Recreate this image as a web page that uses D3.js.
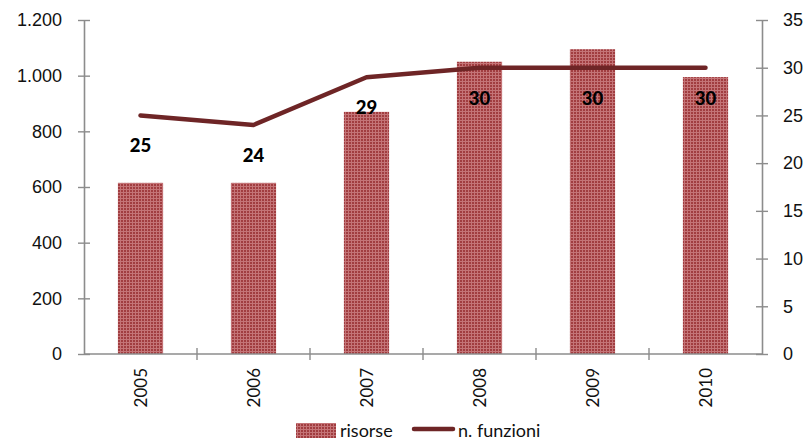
<!DOCTYPE html>
<html>
<head>
<meta charset="utf-8">
<script src="https://cdn.jsdelivr.net/npm/d3@7"></script>
<style>
  html, body { margin: 0; padding: 0; background: #fff; }
  svg { display: block; font-family: Lato, "Open Sans", sans-serif; }
</style>
</head>
<body>
<svg id="chart" width="805" height="440"></svg>
<script>
// Data
const years = ["2005", "2006", "2007", "2008", "2009", "2010"];
const risorse = [615, 615, 870, 1050, 1095, 995];
const funzioni = [25, 24, 29, 30, 30, 30];
const leftTicks = [0, 200, 400, 600, 800, 1000, 1200];
const rightTicks = [0, 5, 10, 15, 20, 25, 30, 35];

const svg = d3.select("#chart");
const m = { left: 84, right: 43, top: 20, bottom: 86 };
const W = 805, H = 440;
const x0 = m.left, x1 = W - m.right, yTop = m.top, yBot = H - m.bottom;

const x = d3.scaleBand().domain(years).range([x0, x1]).paddingInner(0).paddingOuter(0);
const yL = d3.scaleLinear().domain([0, 1200]).range([yBot, yTop]);
const yR = d3.scaleLinear().domain([0, 35]).range([yBot, yTop]);

const axisColor = "#8c8c8c";
const lineColor = "#6e2526";
const fmtIt = d => d3.format(",")(d).replace(/,/g, ".");

// Checkered fill for the bars
const defs = svg.append("defs");
const pat = defs.append("pattern").attr("id", "grid")
  .attr("patternUnits", "userSpaceOnUse").attr("width", 3).attr("height", 3);
pat.append("rect").attr("width", 3).attr("height", 3).attr("fill", "#a13d40");
pat.append("rect").attr("x", 0).attr("y", 0).attr("width", 3).attr("height", 1).attr("fill", "#c47477");
pat.append("rect").attr("x", 0).attr("y", 0).attr("width", 1).attr("height", 3).attr("fill", "#c47477");

// Bars
const barW = x.bandwidth() * 0.4;
svg.append("g").selectAll("rect").data(years).join("rect")
  .attr("x", (d) => x(d) + (x.bandwidth() - barW) / 2)
  .attr("y", (d, i) => yL(risorse[i]))
  .attr("width", barW)
  .attr("height", (d, i) => yBot - yL(risorse[i]))
  .attr("fill", "url(#grid)");

// Axes
function styleAxis(g) {
  g.select(".domain").attr("stroke", axisColor).attr("stroke-width", 1.6);
  g.selectAll(".tick line").attr("stroke", axisColor).attr("stroke-width", 1.4);
  g.selectAll(".tick text").attr("fill", "#111").attr("font-size", 18);
}

const gL = svg.append("g").attr("transform", `translate(${x0},0)`)
  .call(d3.axisLeft(yL).tickValues(leftTicks).tickFormat(fmtIt).tickSize(6).tickSizeOuter(0).tickPadding(16));
styleAxis(gL);
gL.selectAll(".tick line").attr("x2", 6).attr("x1", -6);

const gR = svg.append("g").attr("transform", `translate(${x1},0)`)
  .call(d3.axisRight(yR).tickValues(rightTicks).tickSize(6).tickSizeOuter(0).tickPadding(15));
styleAxis(gR);
gR.selectAll(".tick line").attr("x2", 6).attr("x1", -6);

// Category axis with ticks between categories
const gB = svg.append("g").attr("transform", `translate(0,${yBot})`);
gB.append("line").attr("x1", x0).attr("x2", x1).attr("y1", 0).attr("y2", 0)
  .attr("stroke", axisColor).attr("stroke-width", 1.6);
const bounds = years.slice(1).map(d => x(d));
gB.selectAll("line.tk").data(bounds).join("line").attr("class", "tk")
  .attr("x1", d => d).attr("x2", d => d).attr("y1", -6).attr("y2", 6)
  .attr("stroke", axisColor).attr("stroke-width", 1.4);
gB.selectAll("text").data(years).join("text")
  .attr("transform", d => `translate(${x(d) + x.bandwidth() / 2 + 6},14) rotate(-90)`)
  .attr("text-anchor", "end")
  .attr("font-size", 17).attr("fill", "#111")
  .text(d => d);

// Line for n. funzioni
const line = d3.line()
  .x((d, i) => x(years[i]) + x.bandwidth() / 2)
  .y(d => yR(d));
svg.append("path").datum(funzioni)
  .attr("d", line).attr("fill", "none")
  .attr("stroke", lineColor).attr("stroke-width", 4.5)
  .attr("stroke-linecap", "round").attr("stroke-linejoin", "round");

// Value labels
svg.append("g").selectAll("text").data(funzioni).join("text")
  .attr("x", (d, i) => x(years[i]) + x.bandwidth() / 2)
  .attr("y", d => yR(d) + 37)
  .attr("text-anchor", "middle")
  .attr("font-size", 18.5).attr("font-weight", "900").attr("fill", "#000")
  .text(d => d);

// Legend
const lg = svg.append("g");
lg.append("rect").attr("x", 296).attr("y", 423).attr("width", 40).attr("height", 15).attr("fill", "url(#grid)");
lg.append("text").attr("x", 340).attr("y", 437).attr("font-size", 18).attr("fill", "#111").text("risorse");
lg.append("line").attr("x1", 414).attr("x2", 453).attr("y1", 429).attr("y2", 429)
  .attr("stroke", lineColor).attr("stroke-width", 4.5).attr("stroke-linecap", "round");
lg.append("text").attr("x", 458).attr("y", 437).attr("font-size", 18).attr("fill", "#111").text("n. funzioni");
</script>
</body>
</html>
